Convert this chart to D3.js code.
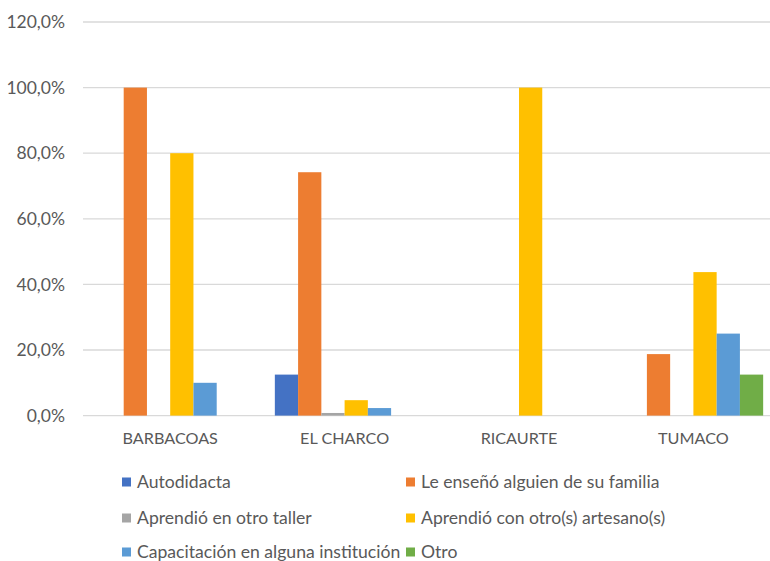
<!DOCTYPE html>
<html><head><meta charset="utf-8">
<script src="https://cdn.jsdelivr.net/npm/d3@7"></script>
<style>body{margin:0;background:#fff}svg{display:block}text{font-family:Lato,"Open Sans",sans-serif;fill:#595959}</style>
</head><body><svg id="c" width="770" height="561"></svg>
<script>
const categories = ["BARBACOAS","EL CHARCO","RICAURTE","TUMACO"];
const seriesNames = ["Autodidacta","Le enseñó alguien de su familia","Aprendió en otro taller","Aprendió con otro(s) artesano(s)","Capacitación en alguna institución","Otro"];
const autodidacta = [0, 12.5, 0, 0];
const familia = [100, 74.2, 0, 18.75];
const taller = [0, 0.8, 0, 0];
const artesano = [80, 4.7, 100, 43.75];
const capacitacion = [10, 2.3, 0, 25];
const otro = [0, 0, 0, 12.5];
const yTicks = [0,20,40,60,80,100,120];
const colors = ["#4472C4","#ED7D31","#A5A5A5","#FFC000","#5B9BD5","#70AD47"];
const seriesValues = [autodidacta, familia, taller, artesano, capacitacion, otro];

const svg = d3.select("#c");
const y = d3.scaleLinear().domain([0,120]).range([415.6, 22]);
const x0 = d3.scaleBand().domain(categories).range([83, 780.6]).paddingInner(0.2).paddingOuter(0.1);
const x1 = d3.scaleBand().domain(seriesNames).range([0, x0.bandwidth()]);

const fmt = v => d3.format(".1f")(v).replace(".", ",") + "%";

// gridlines
svg.append("g").selectAll("line").data(yTicks).join("line")
  .attr("x1", 83).attr("x2", 780.6)
  .attr("y1", d => y(d)).attr("y2", d => y(d))
  .attr("stroke", "#d9d9d9").attr("stroke-width", 1.3);

// y axis labels
const yAxis = d3.axisLeft(y).tickValues(yTicks).tickFormat(fmt).tickSize(0).tickPadding(18);
const ga = svg.append("g").attr("transform","translate(83,0)").call(yAxis);
ga.select(".domain").remove();
ga.selectAll("text").style("font-size","17.5px").attr("fill","#595959").style("font-family","Lato,sans-serif");

// bars
const groups = svg.append("g").selectAll("g").data(categories).join("g")
  .attr("transform", d => `translate(${x0(d)},0)`);
groups.selectAll("rect").data((c, ci) => seriesNames.map((s, si) => ({s, si, v: seriesValues[si][ci]})))
  .join("rect")
  .attr("x", d => x1(d.s)).attr("width", x1.bandwidth())
  .attr("y", d => y(d.v)).attr("height", d => y(0) - y(d.v))
  .attr("fill", (d) => colors[d.si]);

// x axis labels
const xAxis = d3.axisBottom(x0).tickSize(0).tickPadding(17);
const gx = svg.append("g").attr("transform", `translate(0,${y(0)})`).call(xAxis);
gx.select(".domain").remove();
gx.selectAll("text").style("font-size","16.2px").attr("fill","#595959").style("font-family","Lato,sans-serif");

// legend
const legendPos = [[122,482],[406,482],[122,518],[406,518],[122,552],[406,552]];
const lg = svg.append("g").selectAll("g").data(seriesNames).join("g")
  .attr("transform", (d,i) => `translate(${legendPos[i][0]},${legendPos[i][1]})`);
lg.append("rect").attr("x",0).attr("y",-4.5).attr("width",9).attr("height",9).attr("fill",(d,i)=>colors[i]);
lg.append("text").attr("x",15).attr("dy","0.35em").style("font-size","17.6px").text(d=>d);
</script></body></html>
